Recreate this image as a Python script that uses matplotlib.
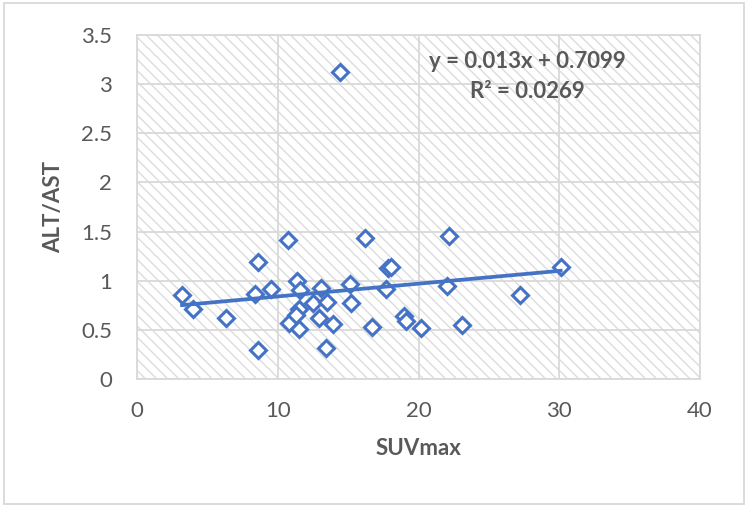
import numpy as np
import matplotlib
matplotlib.use('Agg')
import matplotlib.pyplot as plt
from matplotlib.patches import Rectangle

# values
suv_max = [3.2, 4.0, 6.3, 8.6, 8.4, 8.6, 9.5, 10.7, 11.4, 11.6, 13.1, 12.5,
           13.5, 11.5, 10.8, 11.5, 11.3, 12.9, 13.9, 13.4, 14.4, 16.2, 15.1,
           15.2, 17.8, 18.05, 17.7, 16.7, 19.0, 19.1, 20.2, 22.2, 22.0, 23.1,
           27.2, 30.1]
alt_ast = [0.85, 0.71, 0.62, 1.19, 0.86, 0.29, 0.92, 1.41, 1.00, 0.91, 0.93,
           0.77, 0.78, 0.71, 0.57, 0.51, 0.65, 0.62, 0.56, 0.32, 3.12, 1.43,
           0.97, 0.77, 1.13, 1.14, 0.92, 0.53, 0.64, 0.59, 0.52, 1.45, 0.95,
           0.55, 0.85, 1.14]
slope = 0.013
intercept = 0.7099
r_squared = 0.0269
x_ticks = [0, 10, 20, 30, 40]
y_ticks = [0, 0.5, 1, 1.5, 2, 2.5, 3, 3.5]

blue = '#4472C4'
grey_text = '#595959'
grid_col = '#d9d9d9'

plt.rcParams['font.family'] = ['Lato', 'DejaVu Sans']
plt.rcParams['hatch.linewidth'] = 1.0

fig = plt.figure(figsize=(7.5, 5.09), dpi=100)
ax = fig.add_axes([137/750, 1-379/509, (700-137)/750, (379-35)/509])

# hatched plot area (excel "wide downward diagonal")
ax.add_patch(Rectangle((0, 0), 1, 1, transform=ax.transAxes, facecolor='white',
                       edgecolor='#dcdcdc', hatch='\\\\\\', linewidth=0, zorder=0))

x = np.array(suv_max)
y = np.array(alt_ast)
ax.plot(x, y, linestyle='none', marker='D', markersize=8.5, markerfacecolor='white',
        markeredgecolor=blue, markeredgewidth=2.2, zorder=3)

xl = np.array([x.min(), x.max()])
ax.plot(xl, slope*xl + intercept, color=blue, linewidth=2.7, zorder=4)

ax.set_xlim(0, 40)
ax.set_ylim(0, 3.5)
ax.set_xticks(x_ticks)
ax.set_yticks(y_ticks)
ax.set_xticklabels([str(t) for t in x_ticks])
ax.set_yticklabels(['0', '0.5', '1', '1.5', '2', '2.5', '3', '3.5'])
ax.tick_params(length=0, labelsize=16, labelcolor=grey_text)
ax.tick_params(axis='x', pad=16)
ax.tick_params(axis='y', pad=18)
ax.grid(True, color=grid_col, linewidth=1.3)
ax.set_axisbelow(True)
for s in ax.spines.values():
    s.set_color(grid_col)
    s.set_linewidth(1.3)

ax.set_xlabel('SUVmax', fontsize=16, fontweight='bold', color=grey_text, labelpad=12)
ax.set_ylabel('ALT/AST', fontsize=16, fontweight='bold', color=grey_text, labelpad=12)

ax.text(527/750, 1-62/509, f'y = {slope}x + {intercept}', transform=fig.transFigure,
        ha='center', va='center', fontsize=16, fontweight='bold', color=grey_text)
ax.text(527/750, 1-92/509, f'R² = {r_squared}', transform=fig.transFigure,
        ha='center', va='center', fontsize=16, fontweight='bold', color=grey_text)

# outer chart frame
fig.patches.append(Rectangle((4/750, 1-504/509), 740/750, 501/509, transform=fig.transFigure,
                             fill=False, edgecolor=grid_col, linewidth=1.3))

fig.savefig('out.png', dpi=100)
